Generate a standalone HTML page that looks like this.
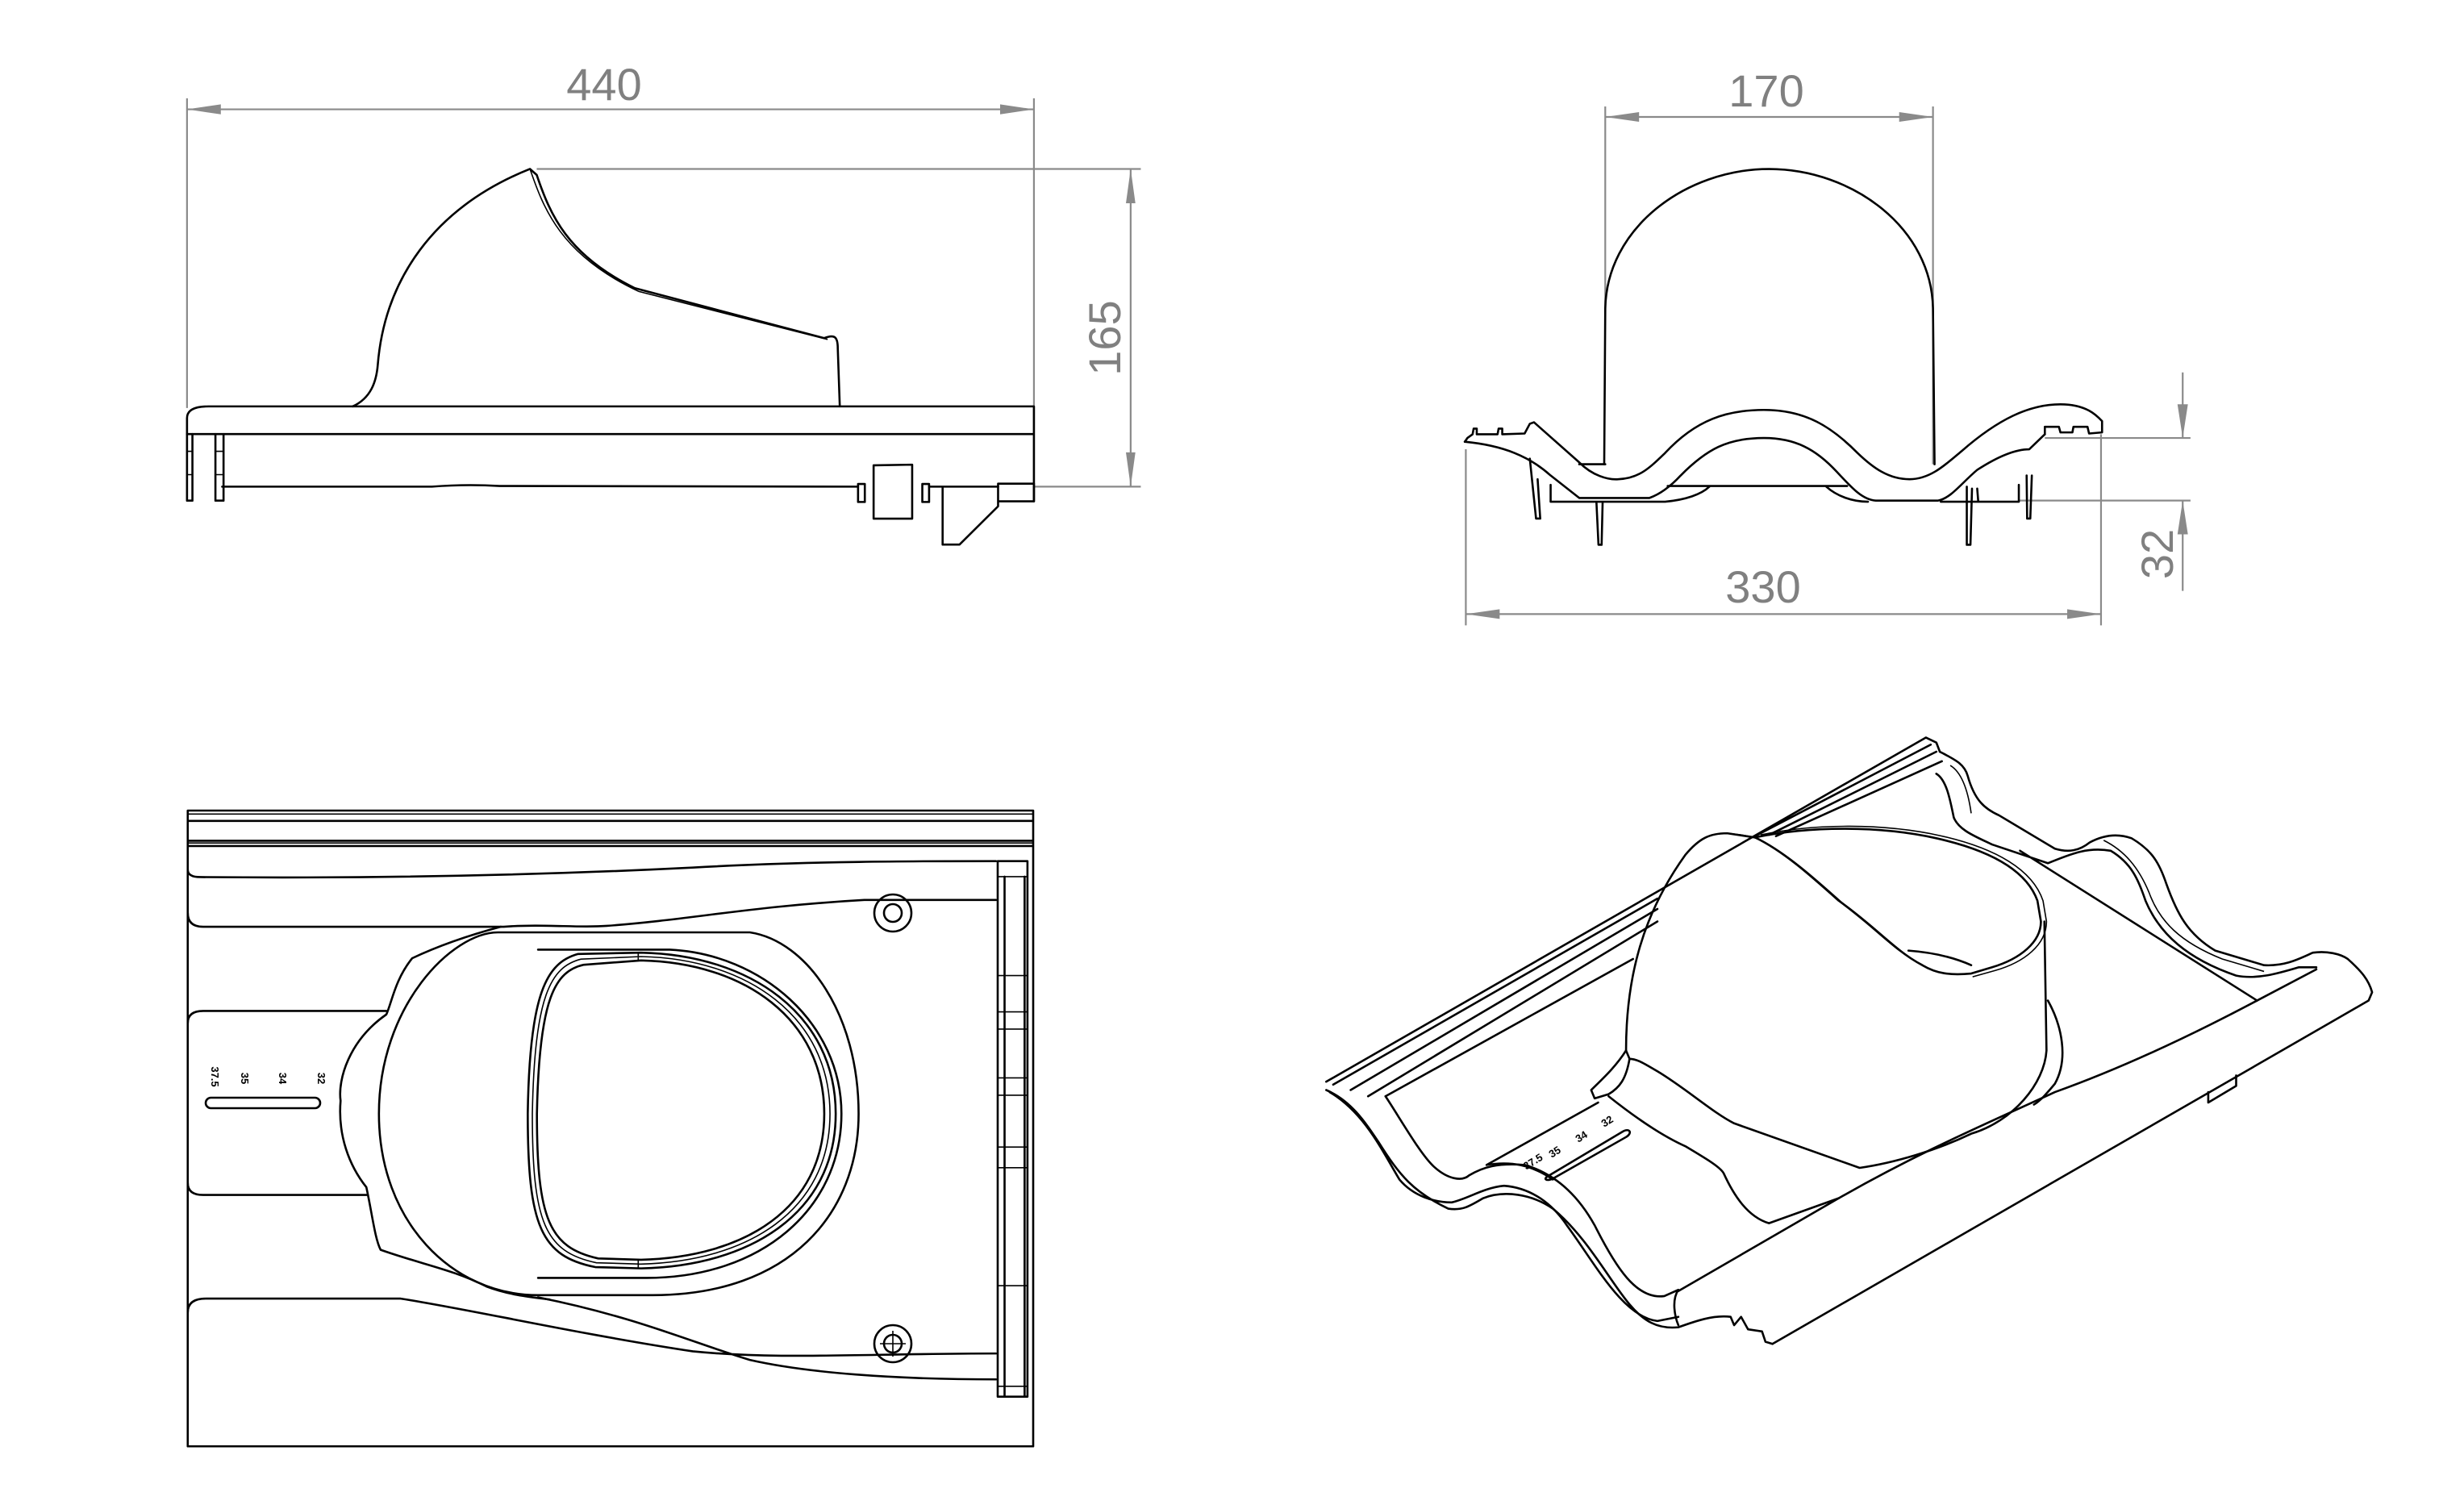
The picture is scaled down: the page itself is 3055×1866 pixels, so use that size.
<!DOCTYPE html>
<html><head><meta charset="utf-8"><style>
html,body{margin:0;padding:0;background:#fff;}
svg{display:block;}
.k{fill:none;stroke:#000;stroke-width:2.6;stroke-linejoin:round;stroke-linecap:round;}
.t{fill:none;stroke:#000;stroke-width:1.6;}
.g{fill:none;stroke:#8a8a8a;stroke-width:2.2;}
.ga{fill:#8a8a8a;stroke:none;}
.dt{font-family:"Liberation Sans",sans-serif;font-size:56px;fill:#808080;}
.lb{font-family:"Liberation Sans",sans-serif;font-size:13px;font-weight:bold;fill:#000;}
</style></head><body>
<svg width="3055" height="1866" viewBox="0 0 3055 1866" xmlns="http://www.w3.org/2000/svg">
<rect width="3055" height="1866" fill="#fff"/>

<!-- SIDE VIEW -->
<g transform="translate(200,60) scale(0.8387,0.4129)">
 <path class="g" vector-effect="non-scaling-stroke" d="M38,183 L1290,183 M38,150 L38,1080 M1290,150 L1290,1316 M555,362 L1448,362 M1290,1316 L1448,1316 M1433,362 L1433,1316"/>
 <polygon class="ga" points="38,183 88,168 88,198"/>
 <polygon class="ga" points="1290,183 1240,168 1240,198"/>
 <polygon class="ga" points="1433,362 1426,465 1440,465"/>
 <polygon class="ga" points="1433,1316 1426,1213 1440,1213"/>
 <path class="k" vector-effect="non-scaling-stroke" d="M38,1158 L38,1110 Q38,1075 70,1075 L1290,1075 L1290,1360 M38,1158 L1290,1158 M90,1316 L400,1316 Q450,1308 500,1314 L1030,1316 M1135,1316 L1237,1316"/>
 <path class="k" vector-effect="non-scaling-stroke" d="M38,1158 L38,1358 L46,1358 L46,1158 M80,1158 L80,1358 L92,1358 L92,1158"/>
 <path class="t" vector-effect="non-scaling-stroke" d="M38,1210 L46,1210 M38,1280 L46,1280 M80,1210 L92,1210 M80,1280 L92,1280"/>
 <path class="k" vector-effect="non-scaling-stroke" d="M283,1075 C310,1050 318,1000 320,950 C330,700 400,480 545,362 L555,380 C575,500 600,620 700,720 L980,870 C995,858 1000,865 1000,900 L1003,1075"/>
 <path class="t" vector-effect="non-scaling-stroke" d="M545,362 C565,480 590,620 706,730 L985,874"/>
 <path class="k" vector-effect="non-scaling-stroke" d="M1053,1252 L1110,1250 L1110,1412 L1053,1412 Z M1030,1308 L1040,1308 L1040,1362 L1030,1362 Z M1125,1308 L1135,1308 L1135,1362 L1125,1362 Z M1155,1320 L1155,1490 L1180,1490 L1237,1375 L1237,1310 M1237,1307 L1290,1307 L1290,1360 L1237,1360 Z"/>
</g>
<text class="dt" x="749" y="124" text-anchor="middle">440</text>
<text class="dt" x="0" y="0" text-anchor="middle" transform="translate(1389,419) rotate(-90)">165</text>

<!-- FRONT VIEW -->
<g transform="translate(1800,60) scale(0.645,0.4645)">
 <path class="g" vector-effect="non-scaling-stroke" d="M295,183 L925,183 M295,155 L295,700 M925,155 L925,1110 M1140,1040 L1420,1040 M1090,1207 L1420,1207 M1405,865 L1405,1040 M1405,1207 L1405,1448 M27,1510 L1248,1510 M27,1070 L27,1540 M1248,1030 L1248,1540"/>
 <polygon class="ga" points="295,183 360,170 360,196"/>
 <polygon class="ga" points="925,183 860,170 860,196"/>
 <polygon class="ga" points="1405,1040 1395,950 1415,950"/>
 <polygon class="ga" points="1405,1207 1395,1297 1415,1297"/>
 <polygon class="ga" points="27,1510 92,1497 92,1523"/>
 <polygon class="ga" points="1248,1510 1183,1497 1183,1523"/>
 <path class="k" vector-effect="non-scaling-stroke" d="M293,1110 L295,700 C295,480 450,322 610,322 C770,322 925,480 925,700 L928,1110"/>
 <path class="k" vector-effect="non-scaling-stroke" d="M25,1050 L30,1040 L40,1030 L42,1015 L48,1015 L48,1030 L88,1030 L90,1015 L97,1015 L97,1030 L140,1028 L150,1002 L158,998 L245,1105 C270,1140 300,1152 320,1150 C360,1148 380,1120 410,1080 C470,990 530,965 600,965 C680,965 730,1010 780,1080 C810,1120 840,1150 880,1150 C920,1150 950,1110 980,1075 C1050,990 1110,950 1170,950 C1220,950 1240,980 1250,995 L1250,1025 L1225,1028 L1222,1010 L1195,1010 L1193,1025 L1170,1025 L1167,1010 L1140,1010 L1140,1030"/>
 <path class="k" vector-effect="non-scaling-stroke" d="M25,1050 C100,1060 150,1090 190,1140 L245,1200 L380,1200 C400,1190 420,1170 440,1140 C490,1070 530,1040 600,1040 C660,1040 700,1070 740,1130 C770,1175 790,1205 815,1207 L935,1207 C960,1200 980,1160 1010,1125 C1060,1080 1090,1070 1110,1070 L1140,1030"/>
 <path class="k" vector-effect="non-scaling-stroke" d="M190,1165 L190,1210 L410,1210 C450,1205 480,1190 495,1170 M720,1170 C740,1195 770,1210 800,1210 M940,1210 L1090,1210 L1090,1165 M415,1168 L760,1168 M245,1110 L295,1110 M150,1095 L162,1255 L170,1255 L165,1150 M278,1210 L282,1325 L288,1325 L290,1210 M990,1170 L990,1325 L997,1325 L1000,1175 M1105,1140 L1106,1255 L1112,1255 L1115,1140 M1010,1175 L1012,1210"/>
</g>
<text class="dt" x="2190" y="132" text-anchor="middle">170</text>
<text class="dt" x="2186" y="747" text-anchor="middle">330</text>
<text class="dt" x="0" y="0" text-anchor="middle" transform="translate(2694,687) rotate(-90)">32</text>

<!-- PLAN VIEW -->
<g transform="translate(220,990) scale(0.7097,0.5355)">
 <path class="k" vector-effect="non-scaling-stroke" d="M18,28 L1495,28 L1495,1500 L18,1500 Z M18,52 L1495,52 M18,98 L1495,98 M18,110 L1495,110"/>
 <path class="t" vector-effect="non-scaling-stroke" d="M18,36 L1495,36 M18,103 L1495,103"/>
 <path class="k" vector-effect="non-scaling-stroke" d="M18,165 Q18,182 40,182 C300,185 600,180 900,160 C1100,145 1300,145 1430,145 M18,265 Q18,297 45,297 L570,297 C640,290 700,300 750,295 C900,280 1000,250 1200,235 L1430,235 M18,520 Q18,492 45,492 L365,492 M18,890 Q18,918 45,918 L330,918 M18,1190 Q18,1158 50,1158 L390,1158 C500,1180 700,1240 900,1280 C1050,1300 1200,1285 1430,1285 M630,1155 C800,1200 900,1260 1000,1300 C1100,1330 1250,1345 1430,1345"/>
 <path class="k" vector-effect="non-scaling-stroke" d="M1433,145 L1485,145 L1485,1385 L1433,1385 Z M1445,181 L1445,1385 M1480,181 L1480,1385"/>
 <path class="t" vector-effect="non-scaling-stroke" d="M1433,181 L1485,181 M1433,410 L1485,410 M1433,494 L1485,494 M1433,534 L1485,534 M1433,647 L1485,647 M1433,687 L1485,687 M1433,807 L1485,807 M1433,855 L1485,855 M1433,1128 L1485,1128 M1433,1361 L1485,1361"/>
 <path class="k" vector-effect="non-scaling-stroke" d="M565,297 C500,320 450,345 410,370 C380,420 375,470 365,500 C300,560 280,650 285,700 C280,780 300,850 330,900 C340,960 345,1020 355,1045 C430,1080 480,1090 540,1130 C580,1150 620,1155 650,1160"/>
 <path class="k" vector-effect="non-scaling-stroke" d="M560,310 L1000,310 C1100,330 1190,500 1190,730 C1190,960 1070,1150 830,1150 L630,1150 C480,1150 352,980 352,730 C352,480 480,310 560,310 Z"/>
 <path class="k" vector-effect="non-scaling-stroke" d="M630,350 L860,350 C1020,360 1160,520 1160,730 C1160,950 1020,1110 820,1110 L630,1110"/>
 <path class="k" vector-effect="non-scaling-stroke" d="M700,360 C645,380 615,450 612,730 C612,990 635,1060 730,1085 L810,1088 C1000,1083 1150,960 1150,730 C1150,500 1000,362 810,357 Z"/>
 <path class="k" vector-effect="non-scaling-stroke" d="M710,385 C660,400 632,460 628,730 C628,975 650,1040 735,1065 L810,1068 C990,1062 1130,950 1130,730 C1130,510 990,380 810,375 Z"/>
 <path class="t" vector-effect="non-scaling-stroke" d="M705,372 C652,390 624,455 620,730 C620,982 642,1050 732,1075 L810,1078 C995,1072 1140,955 1140,730 C1140,505 995,371 810,366 Z M805,357 L805,375 M805,1068 L805,1088"/>
</g>
<circle class="k" cx="1107" cy="1132" r="23"/><circle class="k" cx="1107" cy="1132" r="11"/>
<circle class="k" cx="1107" cy="1666" r="23"/><circle class="k" cx="1107" cy="1666" r="11"/>
<path class="t" d="M1091,1666 L1123,1666 M1107,1650 L1107,1682"/>
<rect class="k" x="255" y="1361" width="142" height="13" rx="6.5"/>
<text class="lb" transform="translate(262,1335) rotate(90)" text-anchor="middle">37.5</text>
<text class="lb" transform="translate(299,1337) rotate(90)" text-anchor="middle">35</text>
<text class="lb" transform="translate(346,1337) rotate(90)" text-anchor="middle">34</text>
<text class="lb" transform="translate(394,1337) rotate(90)" text-anchor="middle">32</text>

<!-- ISO VIEW -->
<g transform="translate(1640,900) scale(0.8645,0.516)">
 <path class="k" vector-effect="non-scaling-stroke" d="M5,855 L865,28 L880,40 L885,62 M15,862 L480,415 M620,265 L872,45 M40,875 L480,440 M640,262 L880,62 M65,890 L480,470 M650,265 L888,85 M90,890 L445,560"/>
 <path class="k" vector-effect="non-scaling-stroke" d="M885,62 C905,80 920,90 925,120 C935,180 950,200 970,215 L1050,295 C1070,305 1085,300 1100,280 C1120,262 1140,258 1160,270 C1190,300 1200,330 1210,380 C1225,450 1240,500 1280,540 L1350,575 C1380,578 1400,560 1420,545 C1440,540 1460,548 1470,560 C1490,590 1500,610 1505,640 L1500,660 L645,1485"/>
 <path class="k" vector-effect="non-scaling-stroke" d="M880,115 C895,130 900,180 905,220 C912,250 935,265 960,285 L1040,330 C1070,310 1095,290 1130,300 C1160,330 1170,370 1180,420 C1200,500 1240,560 1310,600 C1340,610 1370,595 1400,580 L1425,580 M1000,300 L1340,660 L1425,585"/>
 <path class="t" vector-effect="non-scaling-stroke" d="M900,95 C915,110 925,150 930,210 M1120,275 C1150,300 1170,340 1185,400 C1200,470 1230,520 1290,560 L1350,590"/>
 <path class="k" vector-effect="non-scaling-stroke" d="M5,875 C40,900 60,950 80,1000 C110,1080 130,1120 180,1160 C200,1165 210,1155 230,1135 C260,1115 300,1125 330,1160 C380,1230 410,1330 440,1390 C460,1430 480,1450 510,1445 C535,1430 560,1415 585,1420 L590,1440 L600,1420 L610,1450 L630,1455 L635,1480 L645,1485"/>
 <path class="k" vector-effect="non-scaling-stroke" d="M10,880 C60,930 85,1020 110,1090 C130,1130 160,1145 185,1145 C210,1135 230,1110 260,1105 C300,1110 330,1150 350,1200 C390,1290 430,1420 480,1430 L510,1420"/>
 <path class="k" vector-effect="non-scaling-stroke" d="M90,890 C110,940 140,1030 160,1060 C180,1090 200,1095 210,1080 C230,1060 250,1050 290,1055 C340,1080 370,1140 390,1200 C420,1300 450,1380 490,1370 L510,1355 C500,1380 505,1420 510,1440"/>
 <path class="k" vector-effect="non-scaling-stroke" d="M510,1358 L740,1135 C860,1020 960,950 1050,880 C1150,820 1250,740 1340,660"/>
 <path class="k" vector-effect="non-scaling-stroke" d="M435,780 C435,600 460,450 520,310 C540,270 555,258 580,258 L620,268 C700,240 800,240 880,270 C960,300 1010,350 1025,420 L1030,470 C1030,520 1000,560 960,580 L930,595 C900,600 880,595 860,575 C820,540 790,480 740,420 C700,360 660,300 620,268"/>
 <path class="t" vector-effect="non-scaling-stroke" d="M628,262 C705,234 805,234 886,264 C966,294 1018,346 1033,420 L1038,470 C1038,526 1006,568 964,588 L932,603 M580,258 C605,262 615,266 625,272 C665,305 705,365 745,425 C795,485 825,545 865,580"/>
 <path class="k" vector-effect="non-scaling-stroke" d="M840,540 C880,545 910,560 930,575 M1035,470 L1038,780 C1035,860 990,950 930,980 C880,1020 820,1050 770,1062 L590,955 C560,930 520,870 480,830 C460,810 450,800 440,800 L435,780 M1040,660 C1060,720 1070,800 1050,860 C1040,880 1030,900 1020,910"/>
 <path class="k" vector-effect="non-scaling-stroke" d="M435,780 C420,820 400,850 385,875 L390,895 L410,885 C425,870 435,850 440,800 M410,890 C440,930 480,980 520,1010 C550,1040 570,1060 575,1075 C590,1130 610,1180 640,1195 L740,1135 M235,1055 C270,1045 300,1055 330,1090 M235,1055 L395,905 M1270,880 L1270,905 L1310,865 L1310,840"/>
 <path class="k" vector-effect="non-scaling-stroke" d="M325,1080 L430,975 C440,965 445,978 435,988 L330,1088 C320,1095 315,1088 325,1080 Z"/>
</g>
<text class="lb" transform="translate(1903,1444) rotate(-32)" text-anchor="middle">37.5</text>
<text class="lb" transform="translate(1930,1432) rotate(-32)" text-anchor="middle">35</text>
<text class="lb" transform="translate(1963,1413) rotate(-32)" text-anchor="middle">34</text>
<text class="lb" transform="translate(1995,1394) rotate(-32)" text-anchor="middle">32</text>
</svg>
</body></html>
